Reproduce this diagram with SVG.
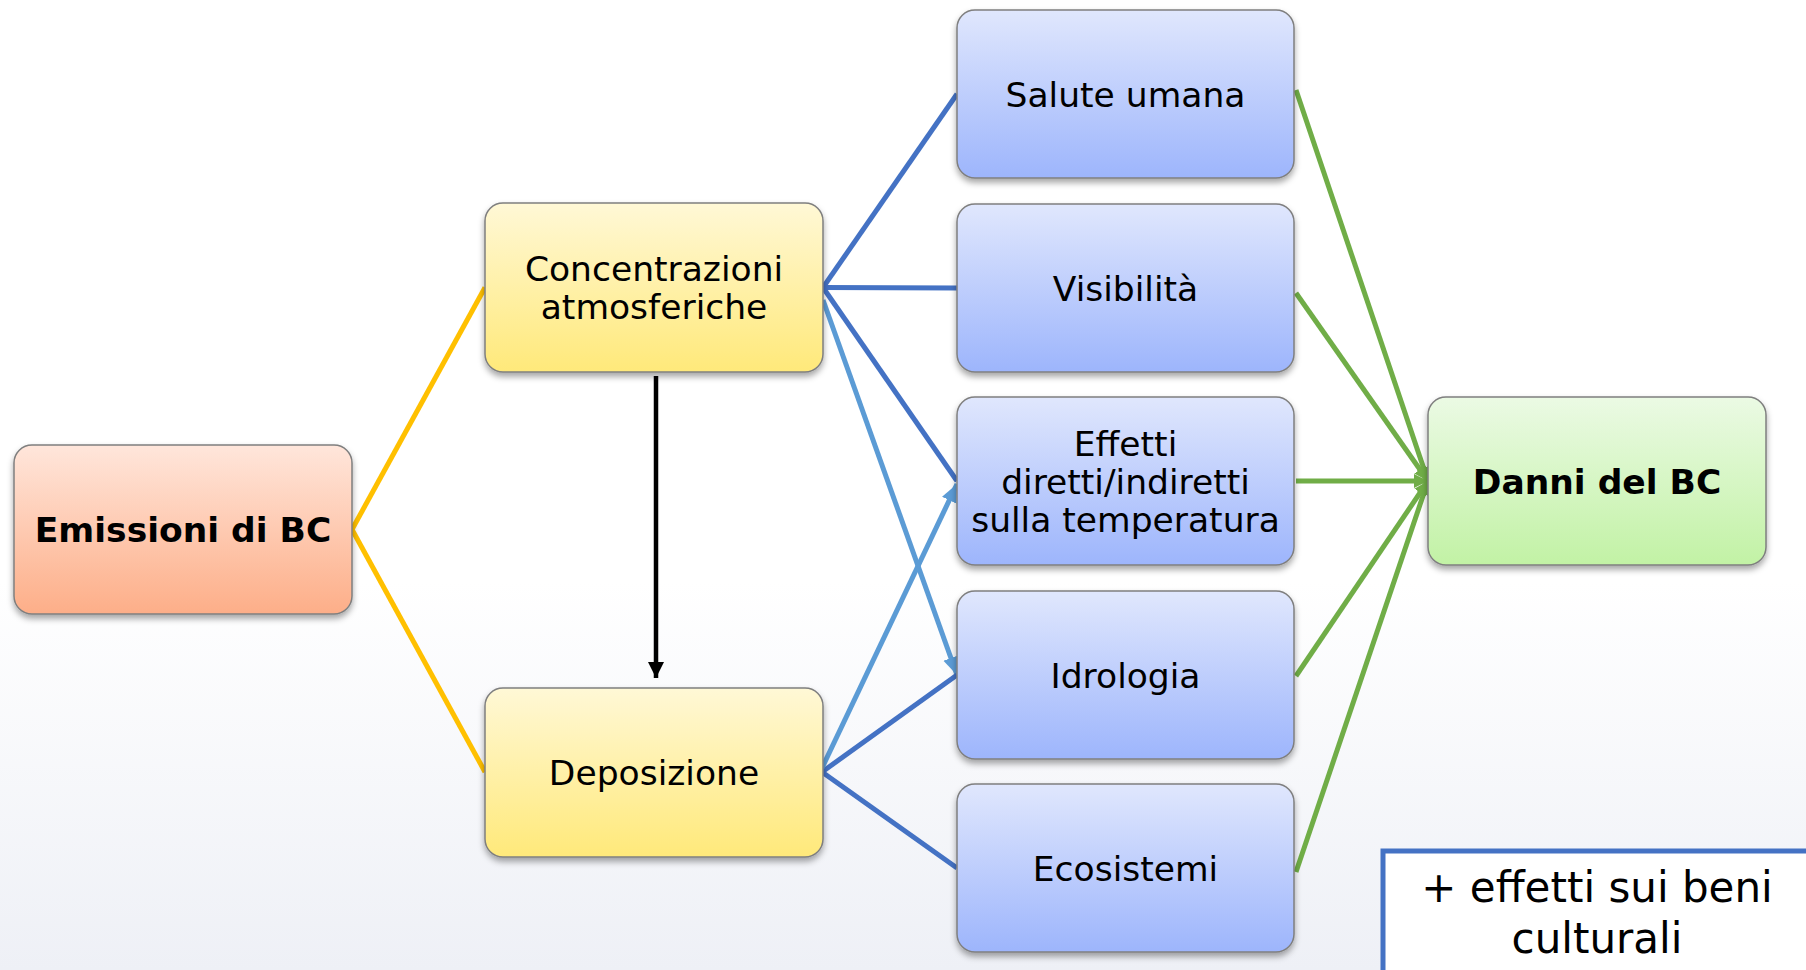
<svg xmlns="http://www.w3.org/2000/svg" width="1806" height="970" viewBox="0 0 1806 970">
<defs>
<linearGradient id="bg" x1="0" y1="0" x2="0" y2="1">
<stop offset="0" stop-color="#ffffff"/><stop offset="0.6" stop-color="#ffffff"/><stop offset="1" stop-color="#eef0f6"/>
</linearGradient>
<linearGradient id="gOr" x1="0" y1="0" x2="0" y2="1"><stop offset="0" stop-color="#ffe6db"/><stop offset="1" stop-color="#fdae88"/></linearGradient>
<linearGradient id="gYe" x1="0" y1="0" x2="0" y2="1"><stop offset="0" stop-color="#fff8d6"/><stop offset="1" stop-color="#ffe97a"/></linearGradient>
<linearGradient id="gBl" x1="0" y1="0" x2="0" y2="1"><stop offset="0" stop-color="#e0e7fd"/><stop offset="1" stop-color="#9db5fc"/></linearGradient>
<linearGradient id="gGr" x1="0" y1="0" x2="0" y2="1"><stop offset="0" stop-color="#ebfae4"/><stop offset="1" stop-color="#c2f2a5"/></linearGradient>
<filter id="sh" x="-10%" y="-10%" width="120%" height="130%">
<feDropShadow dx="0" dy="4" stdDeviation="3" flood-color="#000" flood-opacity="0.35"/>
</filter>
<marker id="aBk" markerUnits="userSpaceOnUse" markerWidth="18" markerHeight="18" refX="16" refY="8" orient="auto">
<path d="M0,0 L16,8 L0,16 z" fill="#000"/>
</marker>
<marker id="aLb" markerUnits="userSpaceOnUse" markerWidth="20" markerHeight="18" refX="18" refY="8" orient="auto">
<path d="M0,0 L18,8 L0,16 z" fill="#5b9bd5"/>
</marker>
<marker id="aGr" markerUnits="userSpaceOnUse" markerWidth="16" markerHeight="16" refX="14" refY="7" orient="auto">
<path d="M0,0 L14,7 L0,14 z" fill="#70ad47"/>
</marker>
<style>
.box{stroke:#7f7f7f;stroke-width:1.5;filter:url(#sh)}
.t{font-family:"DejaVu Sans",Verdana,sans-serif;font-size:34.5px;fill:#000;text-anchor:middle}
.b{font-weight:bold}
.cy{stroke:#ffc000;stroke-width:5;fill:none}
.cb{stroke:#4472c4;stroke-width:5;fill:none}
.cl{stroke:#5b9bd5;stroke-width:5;fill:none}
.cg{stroke:#70ad47;stroke-width:5;fill:none}
</style>
</defs>
<rect width="1806" height="970" fill="url(#bg)"/>

<g id="connectors">
<line class="cy" x1="352" y1="529.5" x2="485" y2="287.5"/>
<line class="cy" x1="352" y1="529.5" x2="485" y2="772"/>
<line class="cb" x1="823" y1="287.5" x2="957" y2="94"/>
<line class="cb" x1="823" y1="287.5" x2="957" y2="288"/>
<line class="cb" x1="823" y1="287.5" x2="957" y2="481"/>
<line class="cl" x1="823" y1="300" x2="957" y2="675" marker-end="url(#aLb)"/>
<line class="cb" x1="822" y1="772" x2="957" y2="675"/>
<line class="cb" x1="822" y1="772" x2="957" y2="868"/>
<line class="cl" x1="822" y1="768" x2="957" y2="484" marker-end="url(#aLb)"/>
<line x1="656" y1="376" x2="656" y2="678" stroke="#000" stroke-width="4.5" marker-end="url(#aBk)"/>
<line class="cg" x1="1296" y1="90" x2="1428" y2="481" marker-end="url(#aGr)"/>
<line class="cg" x1="1296" y1="293" x2="1428" y2="481" marker-end="url(#aGr)"/>
<line class="cg" x1="1296" y1="481" x2="1428" y2="481" marker-end="url(#aGr)"/>
<line class="cg" x1="1296" y1="676" x2="1428" y2="481" marker-end="url(#aGr)"/>
<line class="cg" x1="1296" y1="872" x2="1428" y2="481" marker-end="url(#aGr)"/>
</g>

<g id="emissioni">
<rect class="box" x="14" y="445" width="338" height="169" rx="18" fill="url(#gOr)"/>
<text class="t b" x="183" y="542">Emissioni di BC</text>
</g>
<g id="concentrazioni">
<rect class="box" x="485" y="203" width="338" height="169" rx="18" fill="url(#gYe)"/>
<text class="t" x="654" y="281">Concentrazioni</text>
<text class="t" x="654" y="319">atmosferiche</text>
</g>
<g id="deposizione">
<rect class="box" x="485" y="688" width="338" height="169" rx="18" fill="url(#gYe)"/>
<text class="t" x="654" y="784.5">Deposizione</text>
</g>
<g id="salute">
<rect class="box" x="957" y="10" width="337" height="168" rx="18" fill="url(#gBl)"/>
<text class="t" x="1125.5" y="106.5">Salute umana</text>
</g>
<g id="visibilita">
<rect class="box" x="957" y="204" width="337" height="168" rx="18" fill="url(#gBl)"/>
<text class="t" x="1125.5" y="300.5">Visibilità</text>
</g>
<g id="effetti">
<rect class="box" x="957" y="397" width="337" height="168" rx="18" fill="url(#gBl)"/>
<text class="t" x="1125.5" y="455.5">Effetti</text>
<text class="t" x="1125.5" y="493.5">diretti/indiretti</text>
<text class="t" x="1125.5" y="531.5">sulla temperatura</text>
</g>
<g id="idrologia">
<rect class="box" x="957" y="591" width="337" height="168" rx="18" fill="url(#gBl)"/>
<text class="t" x="1125.5" y="687.5">Idrologia</text>
</g>
<g id="ecosistemi">
<rect class="box" x="957" y="784" width="337" height="168" rx="18" fill="url(#gBl)"/>
<text class="t" x="1125.5" y="880.5">Ecosistemi</text>
</g>
<g id="danni">
<rect class="box" x="1428" y="397" width="338" height="168" rx="18" fill="url(#gGr)"/>
<text class="t b" x="1597" y="493.5">Danni del BC</text>
</g>
<g id="note">
<rect x="1383" y="851" width="440" height="140" fill="#ffffff" stroke="#4472c4" stroke-width="5"/>
<text class="t" x="1597" y="902" style="font-size:42px">+ effetti sui beni</text>
<text class="t" x="1597" y="953" style="font-size:42px">culturali</text>
</g>
</svg>
